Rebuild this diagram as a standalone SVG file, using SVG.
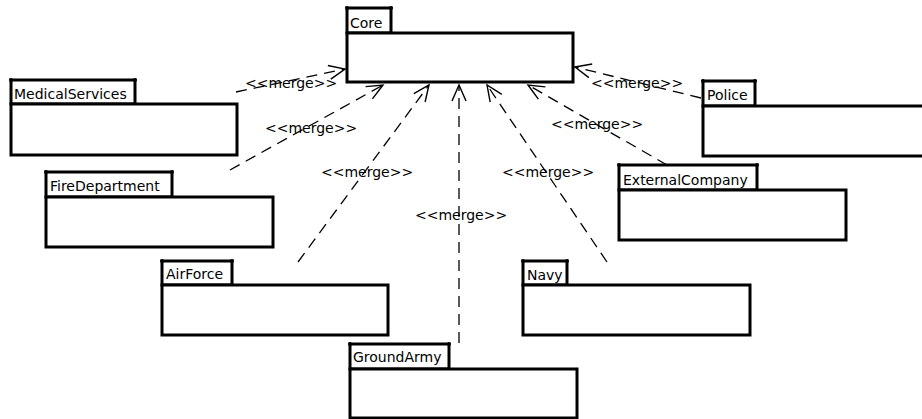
<svg xmlns="http://www.w3.org/2000/svg" width="922" height="419" viewBox="0 0 922 419">
  <style>
    .box { fill: #ffffff; stroke: #000000; stroke-width: 3; }
    .corner { fill: #000000; }
    .name { font-family: "DejaVu Sans", sans-serif; font-size: 14px; fill: #000000; }
    .dep { fill: none; stroke: #000000; stroke-width: 1.3; stroke-dasharray: 11 7; }
    .lbl { font-family: "DejaVu Sans", sans-serif; font-size: 14px; fill: #000000; }
  </style>
  <defs>
    <marker id="open" viewBox="0 0 20 20" refX="17" refY="10" markerWidth="20" markerHeight="20" markerUnits="userSpaceOnUse" orient="auto">
      <path d="M1,3 L17,10 L1,17" fill="none" stroke="#000000" stroke-width="1.4"/>
    </marker>
  </defs>
  <rect width="922" height="419" fill="#ffffff"/>

  <!-- packages -->
  <g id="Core">
    <rect class="box" x="347" y="8" width="44" height="25"/>
    <circle class="corner" cx="347" cy="8" r="2"/><circle class="corner" cx="391" cy="8" r="2"/>
    <rect class="box" x="347" y="33" width="226" height="49"/>
    <text class="name" x="350" y="27.5">Core</text>
  </g>
  <g id="MedicalServices">
    <rect class="box" x="11" y="80" width="124" height="24"/>
    <circle class="corner" cx="11" cy="80" r="2"/><circle class="corner" cx="135" cy="80" r="2"/>
    <rect class="box" x="11" y="104" width="226" height="51"/>
    <text class="name" x="14" y="99">MedicalServices</text>
  </g>
  <g id="Police">
    <rect class="box" x="703" y="81" width="52" height="25"/>
    <circle class="corner" cx="703" cy="81" r="2"/><circle class="corner" cx="755" cy="81" r="2"/>
    <rect class="box" x="703" y="106" width="226" height="50"/>
    <text class="name" x="707" y="100">Police</text>
  </g>
  <g id="FireDepartment">
    <rect class="box" x="46" y="172" width="126" height="25"/>
    <circle class="corner" cx="46" cy="172" r="2"/><circle class="corner" cx="172" cy="172" r="2"/>
    <rect class="box" x="46" y="197" width="227" height="50"/>
    <text class="name" x="50" y="191">FireDepartment</text>
  </g>
  <g id="ExternalCompany">
    <rect class="box" x="619" y="165" width="138" height="25"/>
    <circle class="corner" cx="619" cy="165" r="2"/><circle class="corner" cx="757" cy="165" r="2"/>
    <rect class="box" x="619" y="190" width="227" height="50"/>
    <text class="name" x="623" y="185">ExternalCompany</text>
  </g>
  <g id="AirForce">
    <rect class="box" x="162" y="261" width="70" height="24"/>
    <circle class="corner" cx="162" cy="261" r="2"/><circle class="corner" cx="232" cy="261" r="2"/>
    <rect class="box" x="162" y="285" width="226" height="50"/>
    <text class="name" x="166" y="279">AirForce</text>
  </g>
  <g id="Navy">
    <rect class="box" x="523" y="261" width="44" height="24"/>
    <circle class="corner" cx="523" cy="261" r="2"/><circle class="corner" cx="567" cy="261" r="2"/>
    <rect class="box" x="523" y="285" width="227" height="50"/>
    <text class="name" x="527" y="280">Navy</text>
  </g>
  <g id="GroundArmy">
    <rect class="box" x="350" y="344" width="99" height="25"/>
    <circle class="corner" cx="350" cy="344" r="2"/><circle class="corner" cx="449" cy="344" r="2"/>
    <rect class="box" x="350" y="369" width="227" height="49"/>
    <text class="name" x="353" y="362">GroundArmy</text>
  </g>

  <!-- merge dependencies -->
  <g id="connectors">
    <line class="dep" x1="236" y1="92" x2="345" y2="69" marker-end="url(#open)"/>
    <line class="dep" x1="230" y1="170" x2="383" y2="85" marker-end="url(#open)"/>
    <line class="dep" x1="298" y1="262" x2="429" y2="85" marker-end="url(#open)"/>
    <line class="dep" x1="459" y1="343" x2="459" y2="85" marker-end="url(#open)"/>
    <line class="dep" x1="607" y1="262" x2="487" y2="85" marker-end="url(#open)"/>
    <line class="dep" x1="667" y1="165" x2="528" y2="85" marker-end="url(#open)"/>
    <line class="dep" x1="701" y1="98" x2="575" y2="67" marker-end="url(#open)"/>
    <text class="lbl" x="245" y="88">&lt;&lt;merge&gt;&gt;</text>
    <text class="lbl" x="265" y="133">&lt;&lt;merge&gt;&gt;</text>
    <text class="lbl" x="321" y="177">&lt;&lt;merge&gt;&gt;</text>
    <text class="lbl" x="415" y="220">&lt;&lt;merge&gt;&gt;</text>
    <text class="lbl" x="502" y="177">&lt;&lt;merge&gt;&gt;</text>
    <text class="lbl" x="551" y="129">&lt;&lt;merge&gt;&gt;</text>
    <text class="lbl" x="591" y="88">&lt;&lt;merge&gt;&gt;</text>
  </g>
</svg>
